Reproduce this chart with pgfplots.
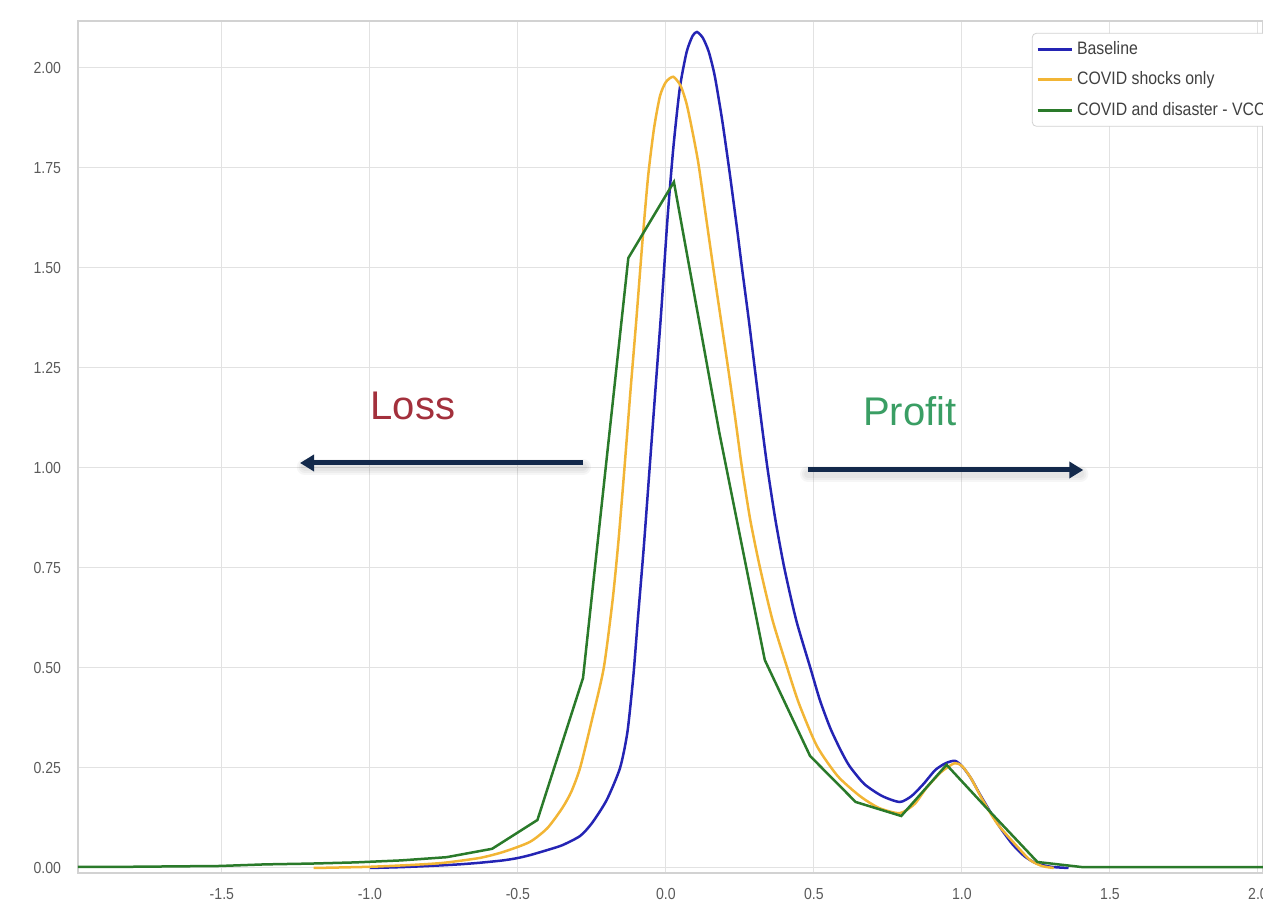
\documentclass[border=0pt]{standalone}
\usepackage{fontspec}
\setmainfont{Liberation Sans}[FakeStretch=0.88]
\newfontfamily\plainsans{Liberation Sans}
\usepackage{pgfplots}
\pgfplotsset{compat=1.18}
\usetikzlibrary{arrows.meta}
\definecolor{cblue}{HTML}{2424B4}
\definecolor{corange}{HTML}{F2B535}
\definecolor{cgreen}{HTML}{2A7A2A}
\definecolor{gridc}{HTML}{E2E2E2}
\definecolor{spinec}{HTML}{D2D2D2}
\definecolor{ticklab}{HTML}{5A5A5A}
\definecolor{lossred}{HTML}{A3303C}
\definecolor{profitgreen}{HTML}{3A9E64}
\definecolor{arrownavy}{HTML}{13294B}
\tikzset{shad/.style={black, opacity=0.035, line width=#1, line cap=round, yshift=-2pt}}
\begin{document}
\begin{tikzpicture}
\begin{axis}[
  name=ax,
  scale only axis, width=592.5pt, height=426pt,
  xmin=-1.986, xmax=2.017, ymin=-0.0125, ymax=2.1175,
  xtick={-1.5,-1.0,-0.5,0.0,0.5,1.0,1.5,2.0},
  ytick={0,0.25,0.5,0.75,1.0,1.25,1.5,1.75,2.0},
  xticklabel style={/pgf/number format/.cd, fixed, fixed zerofill, precision=1, /tikz/.cd, yshift=-4pt},
  yticklabel style={/pgf/number format/.cd, fixed, fixed zerofill, precision=2, /tikz/.cd, xshift=-5pt},
  /pgf/number format/assume math mode=true,
  tick label style={font=\fontsize{8}{10}\selectfont, text=ticklab},
  major tick length=0pt,
  grid=major,
  major grid style={gridc, line width=0.5pt},
  axis line style={spinec, line width=0.6pt},
  legend style={at={(0.805,0.986)}, anchor=north west, draw=spinec, fill=white, rounded corners=2pt,
    font=\fontsize{9}{11}\selectfont, text=black!75, row sep=3.2pt, inner sep=2pt,
    cells={anchor=west}},
  legend cell align=left,
  legend image code/.code={\draw[#1, line width=1.4pt] (0pt,0pt) -- (17pt,0pt);},
  every axis plot/.append style={line width=1.25pt},
]
\addplot[cblue, smooth, tension=0.4] coordinates {
(-1.00,0.000) (-0.90,0.002) (-0.80,0.005) (-0.70,0.009) (-0.63,0.013) (-0.55,0.019) (-0.50,0.025) (-0.46,0.032) (-0.40,0.045) (-0.35,0.057) (-0.29,0.080) (-0.25,0.112) (-0.20,0.170) (-0.155,0.25) (-0.13,0.34) (-0.11,0.48) (-0.095,0.62) (-0.075,0.80) (-0.055,1.00) (-0.035,1.20) (-0.015,1.40) (0.005,1.62) (0.025,1.80) (0.047,1.95) (0.07,2.04) (0.09,2.08) (0.105,2.09) (0.125,2.075) (0.145,2.04) (0.165,1.98) (0.19,1.87) (0.215,1.74) (0.24,1.60) (0.257,1.50) (0.28,1.37) (0.30,1.25) (0.32,1.13) (0.343,1.00) (0.37,0.87) (0.40,0.75) (0.44,0.62) (0.488,0.50) (0.52,0.42) (0.555,0.35) (0.59,0.295) (0.62,0.255) (0.67,0.21) (0.73,0.18) (0.79,0.165) (0.83,0.18) (0.87,0.21) (0.91,0.245) (0.945,0.262) (0.976,0.268) (1.00,0.255) (1.03,0.225) (1.06,0.185) (1.10,0.135) (1.13,0.10) (1.17,0.06) (1.21,0.03) (1.25,0.012) (1.30,0.003) (1.36,0.000)
};
\addlegendentry{Baseline}
\addplot[corange, smooth, tension=0.4] coordinates {
(-1.19,0.000) (-1.00,0.003) (-0.85,0.008) (-0.75,0.013) (-0.63,0.025) (-0.55,0.040) (-0.46,0.065) (-0.40,0.10) (-0.35,0.15) (-0.32,0.19) (-0.29,0.25) (-0.25,0.37) (-0.21,0.50) (-0.18,0.67) (-0.16,0.82) (-0.14,1.00) (-0.12,1.19) (-0.10,1.37) (-0.08,1.56) (-0.06,1.73) (-0.04,1.85) (-0.02,1.93) (0.00,1.965) (0.025,1.978) (0.05,1.955) (0.07,1.91) (0.09,1.84) (0.11,1.76) (0.135,1.63) (0.16,1.50) (0.185,1.375) (0.21,1.25) (0.235,1.12) (0.257,1.00) (0.285,0.87) (0.318,0.75) (0.36,0.62) (0.41,0.50) (0.45,0.41) (0.51,0.305) (0.58,0.23) (0.655,0.18) (0.72,0.15) (0.79,0.137) (0.84,0.16) (0.88,0.20) (0.93,0.24) (0.975,0.262) (1.00,0.255) (1.03,0.225) (1.07,0.17) (1.12,0.11) (1.185,0.055) (1.23,0.02) (1.27,0.005) (1.31,0.000)
};
\addlegendentry{COVID shocks only}
\addplot[cgreen, sharp plot] coordinates {
(-1.986,0.003) (-1.815,0.003) (-1.662,0.004) (-1.508,0.005) (-1.355,0.009) (-1.201,0.011) (-1.048,0.014) (-0.894,0.019) (-0.741,0.027) (-0.587,0.048) (-0.434,0.12) (-0.280,0.475) (-0.127,1.525) (0.027,1.715) (0.180,1.09) (0.334,0.52) (0.487,0.28) (0.641,0.165) (0.795,0.13) (0.948,0.258) (1.102,0.135) (1.255,0.015) (1.409,0.002) (1.562,0.002) (1.716,0.002) (1.869,0.002) (2.023,0.002)
};
\addlegendentry{COVID and disaster - VCC}
\draw[shad=8pt] (axis cs:-0.28,1.0125) -- (axis cs:-1.22,1.0125);
\draw[shad=6pt] (axis cs:-0.28,1.0125) -- (axis cs:-1.22,1.0125);
\draw[shad=4pt] (axis cs:-0.28,1.0125) -- (axis cs:-1.22,1.0125);
\draw[shad=8pt] (axis cs:0.48,0.995) -- (axis cs:1.40,0.995);
\draw[shad=6pt] (axis cs:0.48,0.995) -- (axis cs:1.40,0.995);
\draw[shad=4pt] (axis cs:0.48,0.995) -- (axis cs:1.40,0.995);
\draw[arrownavy, line width=2.5pt, -{Triangle[length=7pt,width=8pt]}] (axis cs:-0.28,1.0125) -- (axis cs:-1.236,1.0125);
\draw[arrownavy, line width=2.5pt, -{Triangle[length=7pt,width=8pt]}] (axis cs:0.48,0.995) -- (axis cs:1.41,0.995);
\node[text=lossred, font=\plainsans\fontsize{20}{24}\selectfont] at (axis cs:-0.855,1.155) {Loss};
\node[text=profitgreen, font=\plainsans\fontsize{20}{24}\selectfont] at (axis cs:0.824,1.1425) {Profit};
\end{axis}
\pgfresetboundingbox
\path ([xshift=-39pt,yshift=-17.5pt]ax.south west) rectangle ([yshift=10.5pt]ax.north east);
\end{tikzpicture}
\end{document}
